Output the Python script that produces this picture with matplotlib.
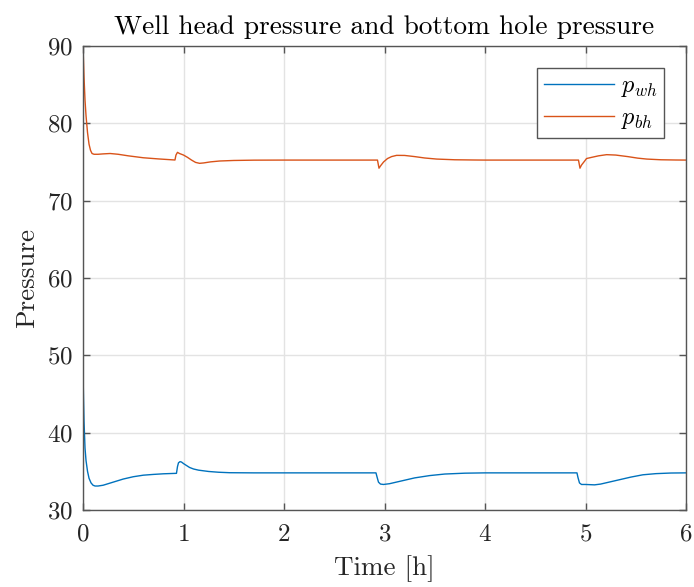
import matplotlib
matplotlib.use("Agg")
import matplotlib.pyplot as plt

plt.rcParams['font.family'] = 'serif'
plt.rcParams['font.serif'] = ['cmr10']
plt.rcParams['mathtext.fontset'] = 'cm'
plt.rcParams['axes.formatter.use_mathtext'] = True

# time [h] and pressures
t_wh = [0.0, 0.005, 0.01, 0.02, 0.03, 0.045, 0.06, 0.08, 0.1, 0.12, 0.15, 0.2,
        0.3, 0.4, 0.5, 0.6, 0.7, 0.8, 0.93,
        0.94, 0.95, 0.965, 0.98, 1.0, 1.03, 1.06, 1.1, 1.15, 1.25, 1.35, 1.46, 1.7, 2.0, 2.915,
        2.925, 2.94, 2.96, 2.99, 3.05, 3.1, 3.2, 3.3, 3.45, 3.6, 3.8, 4.0, 4.915,
        4.925, 4.94, 4.96, 5.0, 5.09, 5.15, 5.25, 5.35, 5.45, 5.57, 5.7, 5.85, 6.0]
p_wh = [48.0, 44.5, 41.5, 38.0, 36.4, 35.0, 34.1, 33.5, 33.2, 33.1, 33.1, 33.2,
        33.6, 34.0, 34.3, 34.5, 34.6, 34.68, 34.74,
        35.6, 36.1, 36.25, 36.2, 36.0, 35.75, 35.5, 35.3, 35.15, 34.98, 34.88, 34.82, 34.8, 34.8, 34.8,
        34.3, 33.6, 33.35, 33.3, 33.4, 33.55, 33.85, 34.15, 34.45, 34.65, 34.76, 34.8, 34.8,
        34.2, 33.5, 33.3, 33.3, 33.25, 33.35, 33.65, 33.95, 34.25, 34.55, 34.7, 34.78, 34.8]

t_bh = [0.0, 0.005, 0.01, 0.02, 0.03, 0.045, 0.06, 0.075, 0.09, 0.11, 0.15, 0.2, 0.27,
        0.35, 0.45, 0.6, 0.75, 0.915,
        0.925, 0.94, 0.96, 1.0, 1.04, 1.08, 1.12, 1.16, 1.2, 1.27, 1.36, 1.5, 1.7, 2.0, 2.93,
        2.935, 2.945, 2.96, 2.99, 3.03, 3.07, 3.12, 3.2, 3.3, 3.4, 3.52, 3.7, 3.9, 4.0, 4.93,
        4.935, 4.945, 4.96, 4.99, 5.01, 5.06, 5.13, 5.21, 5.3, 5.42, 5.52, 5.61, 5.75, 5.9, 6.0]
p_bh = [90.0, 88.0, 86.0, 83.0, 81.0, 78.8, 77.3, 76.5, 76.1, 76.0, 76.0, 76.05, 76.1,
        76.0, 75.8, 75.55, 75.4, 75.26,
        75.9, 76.25, 76.1, 75.9, 75.6, 75.25, 74.95, 74.83, 74.88, 75.02, 75.13, 75.2, 75.24, 75.25, 75.25,
        74.9, 74.2, 74.5, 75.0, 75.45, 75.7, 75.86, 75.85, 75.7, 75.52, 75.38, 75.29, 75.26, 75.25, 75.25,
        74.9, 74.2, 74.6, 75.1, 75.45, 75.6, 75.8, 75.95, 75.9, 75.7, 75.5, 75.38, 75.29, 75.26, 75.25]

x_ticks = [0, 1, 2, 3, 4, 5, 6]
y_ticks = [30, 40, 50, 60, 70, 80, 90]

fig = plt.figure(figsize=(6.94, 5.87), dpi=100)
ax = fig.add_axes([0.1196, 0.1312, 0.8689, 0.7904])

ax.plot(t_wh, p_wh, color='#0072BD', lw=1.0, label=r'$p_{wh}$')
ax.plot(t_bh, p_bh, color='#D95319', lw=1.0, label=r'$p_{bh}$')

ax.set_xlim(0, 6)
ax.set_ylim(30, 90)
ax.set_xticks(x_ticks)
ax.set_yticks(y_ticks)
ax.grid(True, color='#e3e3e3', lw=1.0)
ax.set_axisbelow(True)

axc = '#262626'
for s in ax.spines.values():
    s.set_color('#555555')
    s.set_linewidth(1.0)
ax.tick_params(direction='in', length=5, width=1.0, colors='#555555',
               labelcolor=axc, top=True, right=True, labelsize=18)
ax.tick_params(axis='x', pad=10)
ax.tick_params(axis='y', pad=7)

ax.set_title('Well head pressure and bottom hole pressure', fontsize=19.7, color='black', pad=9)
ax.set_xlabel('Time [h]', fontsize=19.5, color=axc, labelpad=7)
ax.set_ylabel('Pressure', fontsize=19.5, color=axc, labelpad=6)

leg = ax.legend(loc='upper right', bbox_to_anchor=(0.964, 0.953), fontsize=17.5,
                fancybox=False, framealpha=1, edgecolor='#555555', handlelength=2.9,
                borderpad=0.3, labelspacing=0.32, handletextpad=0.25, borderaxespad=0)
leg.get_frame().set_linewidth(1.0)

fig.savefig('out.png', dpi=100)
